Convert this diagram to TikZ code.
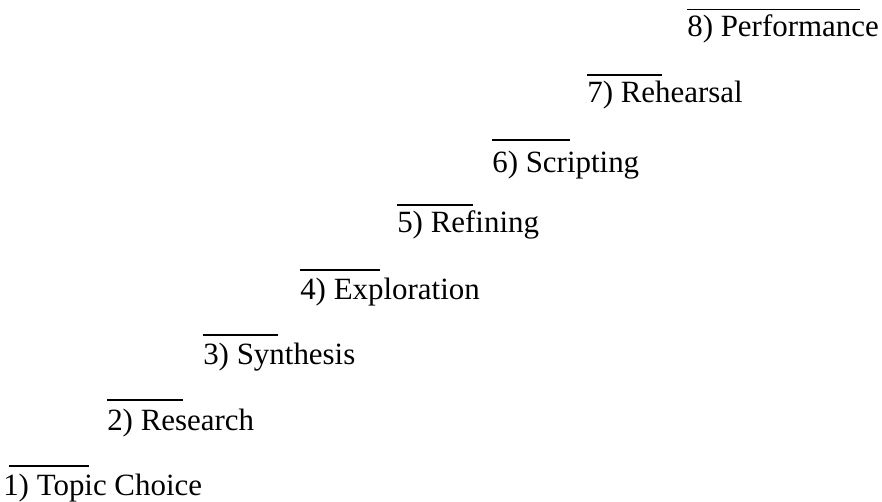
\documentclass[tikz,border=0pt]{standalone}
\usepackage{fontspec}
\setmainfont{Liberation Serif}
\usepackage{tikz}
\usetikzlibrary{calc}

\begin{document}
\begin{tikzpicture}[
  stage/.style={anchor=base west, inner sep=0pt, font=\fontsize{22}{26}\selectfont},
  bar/.style={line width=1pt, black}
]
\useasboundingbox (0,0) rectangle (22.05,12.525);
\node[stage] (s1) at (0.075,0.15) {1) Topic Choice};
\node[stage] (s2) at (2.675,1.775) {2) Research};
\node[stage] (s3) at (5.075,3.4) {3) Synthesis};
\node[stage] (s4) at (7.5,5.025) {4) Exploration};
\node[stage] (s5) at (9.925,6.7) {5) Refining};
\node[stage] (s6) at (12.3,8.2) {6) Scripting};
\node[stage] (s7) at (14.675,9.95) {7) Rehearsal};
\node[stage] (s8) at (17.175,11.6) {8) Performance};
% lines over the first part of each stage
\draw[bar] ($(s1.base west)+(0.15,0.73)$) -- ++(2.0,0);
\draw[bar] ($(s2.base west)+(0,0.75)$) -- ++(1.9,0);
\draw[bar] ($(s3.base west)+(0,0.75)$) -- ++(1.88,0);
\draw[bar] ($(s4.base west)+(0,0.75)$) -- ++(2.0,0);
\draw[bar] ($(s5.base west)+(0,0.7)$) -- ++(1.9,0);
\draw[bar] ($(s6.base west)+(0,0.82)$) -- ++(1.95,0);
\draw[bar] ($(s7.base west)+(0,0.7)$) -- ++(1.88,0);
\draw[bar] ($(s8.base west)+(0,0.68)$) -- ++(4.33,0);
\end{tikzpicture}
\end{document}
